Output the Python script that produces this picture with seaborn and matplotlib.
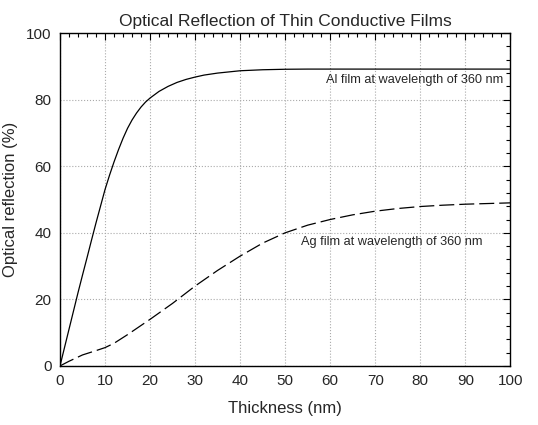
import matplotlib
matplotlib.use("Agg")
import matplotlib.pyplot as plt
import pandas as pd
import seaborn as sns
from matplotlib.ticker import MultipleLocator

# values
al_thickness = [0, 1, 2, 3, 4, 5, 6, 7, 8, 9, 10, 11, 12, 13, 14, 15, 16, 17, 18, 19, 20,
                22, 24, 26, 28, 30, 32, 35, 40, 45, 50, 55, 60, 70, 80, 90, 100]
al_reflection = [0, 5.5, 11, 16.5, 22, 27.3, 32.5, 37.8, 43, 48, 53, 57.3, 61.3, 65,
                 68.4, 71.4, 73.9, 76.0, 77.8, 79.3, 80.5, 82.5, 84.0, 85.2, 86.1, 86.8,
                 87.4, 88.0, 88.7, 89.0, 89.15, 89.2, 89.2, 89.2, 89.2, 89.2, 89.2]

ag_thickness = [0, 2, 5, 8, 10, 12, 15, 20, 25, 30, 35, 40, 45, 50, 55, 60, 65, 70, 75,
                80, 85, 90, 95, 100]
ag_reflection = [0, 1.4, 3.3, 4.6, 5.5, 6.8, 9.4, 14, 18.8, 24, 28.7, 33, 36.9, 40,
                 42.3, 44, 45.4, 46.5, 47.3, 47.9, 48.3, 48.6, 48.8, 49]

al_label = "Al film at wavelength of 360 nm"
ag_label = "Ag film at wavelength of 360 nm"

al = pd.DataFrame({"thickness": al_thickness, "reflection": al_reflection})
ag = pd.DataFrame({"thickness": ag_thickness, "reflection": ag_reflection})

sns.set_style("white")
plt.rcParams["font.family"] = ["Liberation Sans", "DejaVu Sans"]

fig = plt.figure(figsize=(5.38, 4.25), dpi=100)
ax = fig.add_axes([0.1115, 0.139, 0.837, 0.783])

sns.lineplot(data=al, x="thickness", y="reflection", color="black", linewidth=0.9, ax=ax)
sns.lineplot(data=ag, x="thickness", y="reflection", color="black", linewidth=0.9, ax=ax)
ax.lines[-1].set_dashes([12, 4])

ax.set_xlim(0, 100)
ax.set_ylim(0, 100)
ax.xaxis.set_major_locator(MultipleLocator(10))
ax.xaxis.set_minor_locator(MultipleLocator(2))
ax.yaxis.set_major_locator(MultipleLocator(20))
ax.yaxis.set_minor_locator(MultipleLocator(4))
ax.tick_params(which="both", direction="in", top=True, right=True, labelsize=11,
               width=0.8, color="black")
ax.tick_params(which="major", length=5, pad=6)
ax.tick_params(which="minor", length=3)
ax.grid(True, which="major", linestyle=":", color="#aaaaaa", linewidth=0.8)

for side in ax.spines.values():
    side.set_color("black")
    side.set_linewidth(1.0)

ax.text(59, 86, al_label, fontsize=9.2, va="center", ha="left")
ax.text(53.5, 37.3, ag_label, fontsize=9.2, va="center", ha="left")

ax.set_title("Optical Reflection of Thin Conductive Films", fontsize=12.5, pad=5)
ax.set_xlabel("Thickness (nm)", fontsize=12, labelpad=9)
ax.set_ylabel("Optical reflection (%)", fontsize=12, labelpad=6)

fig.savefig("out.png", dpi=100)
